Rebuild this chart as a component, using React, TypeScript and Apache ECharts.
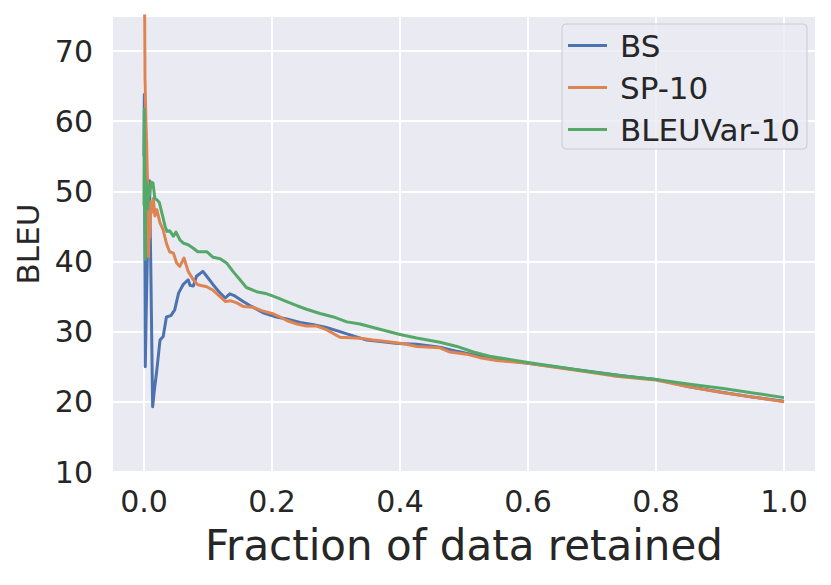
import React, { useEffect, useRef } from "react";
import * as echarts from "echarts";

const seriesNames = ["BS", "SP-10", "BLEUVar-10"];
const seriesColors = ["#4C72B0", "#DD8452", "#55A868"];

const bsPoints: [number, number][] = [
  [0, 55], [0.0005, 63.8], [0.0012, 45], [0.002, 25], [0.0035, 33], [0.006, 44],
  [0.0085, 51.5], [0.0105, 40], [0.0135, 19.3], [0.016, 21.5], [0.02, 24.5],
  [0.025, 28.8], [0.03, 29.3], [0.035, 32.1], [0.042, 32.3], [0.048, 33.1],
  [0.054, 35.5], [0.061, 36.7], [0.069, 37.4], [0.072, 36.6], [0.077, 36.5],
  [0.082, 37.9], [0.092, 38.6], [0.098, 37.9], [0.108, 36.7], [0.119, 35.5],
  [0.127, 34.8], [0.134, 35.4], [0.142, 35.1], [0.155, 34.3], [0.168, 33.6],
  [0.186, 32.7], [0.207, 32.1], [0.223, 31.8], [0.244, 31.3], [0.265, 31],
  [0.285, 30.6], [0.306, 30], [0.327, 29.4], [0.348, 28.8], [0.369, 28.6],
  [0.397, 28.3], [0.426, 28.2], [0.4625, 27.8], [0.489, 27.2], [0.525, 26.5],
  [0.56, 26], [0.6, 25.5], [0.65, 24.9], [0.7, 24.3], [0.75, 23.7], [0.8, 23.2],
  [0.85, 22.2], [0.9, 21.4], [0.95, 20.7], [1.0, 20.1],
];

const spPoints: [number, number][] = [
  [0, 95], [0.0008, 80], [0.0015, 66], [0.002, 64], [0.003, 60], [0.004, 57],
  [0.005, 53], [0.006, 50], [0.0065, 43], [0.007, 40.7], [0.008, 45], [0.009, 43.5],
  [0.0105, 48.5], [0.012, 47], [0.0145, 49], [0.017, 46.5], [0.02, 47.4],
  [0.025, 45.5], [0.03, 44.5], [0.035, 42.6], [0.04, 41.4], [0.046, 41.2],
  [0.051, 39.8], [0.056, 39.3], [0.0625, 40.5], [0.069, 38.6], [0.077, 37.4],
  [0.084, 36.7], [0.098, 36.4], [0.108, 35.9], [0.119, 35], [0.127, 34.3],
  [0.136, 34.4], [0.145, 34.1], [0.155, 33.6], [0.17, 33.5], [0.184, 33],
  [0.2, 32.6], [0.2125, 32.1], [0.223, 31.6], [0.239, 31.1], [0.254, 30.8],
  [0.27, 30.8], [0.285, 30.3], [0.306, 29.2], [0.3375, 29.05], [0.358, 28.8],
  [0.379, 28.6], [0.397, 28.4], [0.41, 28.2], [0.426, 27.9], [0.4625, 27.7],
  [0.478, 27.1], [0.504, 26.8], [0.525, 26.3], [0.551, 25.9], [0.6, 25.5],
  [0.645, 24.9], [0.697, 24.2], [0.733, 23.7], [0.8, 23.1], [0.853, 22.1],
  [0.905, 21.3], [0.957, 20.6], [1.0, 20.0],
];

const varPoints: [number, number][] = [
  [0, 48], [0.0005, 61.7], [0.001, 55], [0.0015, 47], [0.002, 40.3], [0.0025, 49],
  [0.003, 51.5], [0.004, 48], [0.005, 51], [0.006, 47.5], [0.0075, 50.5],
  [0.009, 49.5], [0.011, 51.3], [0.014, 51.2], [0.017, 49], [0.02, 48.8],
  [0.024, 48.4], [0.028, 46.9], [0.033, 45], [0.036, 44.3], [0.04, 44.4],
  [0.046, 43.6], [0.05, 44.2], [0.056, 43.1], [0.062, 42.6], [0.069, 42.4],
  [0.077, 41.9], [0.084, 41.4], [0.098, 41.4], [0.108, 40.6], [0.119, 40.4],
  [0.129, 39.8], [0.139, 38.6], [0.15, 37.4], [0.16, 36.3], [0.176, 35.7],
  [0.192, 35.4], [0.207, 34.9], [0.223, 34.3], [0.239, 33.7], [0.254, 33.2],
  [0.275, 32.6], [0.296, 32.1], [0.317, 31.4], [0.3375, 31.1], [0.358, 30.6],
  [0.379, 30.1], [0.4, 29.6], [0.426, 29.1], [0.4625, 28.5], [0.489, 27.9],
  [0.5145, 27.1], [0.54, 26.5], [0.567, 26.1], [0.6, 25.6], [0.645, 25],
  [0.697, 24.3], [0.749, 23.7], [0.8, 23.2], [0.853, 22.5], [0.905, 21.9],
  [0.957, 21.2], [1.0, 20.6],
];

const allPoints = [bsPoints, spPoints, varPoints];

const FONT = "DejaVu Sans";
const TEXT = "#262626";

export default function App() {
  const ref = useRef<HTMLDivElement>(null);
  useEffect(() => {
    if (!ref.current) return;
    const chart = echarts.init(ref.current, undefined, { renderer: "svg" });
    chart.setOption({
      animation: false,
      backgroundColor: "#ffffff",
      textStyle: { fontFamily: FONT, color: TEXT },
      grid: {
        left: 112,
        right: 15,
        top: 16,
        bottom: 113,
        show: true,
        backgroundColor: "#EAEAF2",
        borderWidth: 0,
      },
      legend: {
        orient: "vertical",
        right: 24,
        top: 24,
        data: seriesNames.map((name) => ({ name, icon: "rect" })),
        itemWidth: 39,
        itemHeight: 3,
        itemGap: 11,
        padding: [6, 7, 4, 6],
        backgroundColor: "rgba(234,234,242,0.8)",
        borderColor: "#cccccc",
        borderWidth: 1,
        borderRadius: 4,
        textStyle: { fontFamily: FONT, fontSize: 31, color: TEXT, padding: [0, 0, 0, 8] },
      },
      xAxis: {
        type: "value",
        min: -0.05,
        max: 1.05,
        splitNumber: 5,
        minInterval: 0.2,
        maxInterval: 0.2,
        axisLine: { show: false },
        axisTick: { show: false },
        splitLine: { show: true, lineStyle: { color: "#ffffff", width: 2 } },
        axisLabel: {
          fontFamily: FONT,
          fontSize: 30,
          color: TEXT,
          margin: 14,
          showMinLabel: false,
          showMaxLabel: false,
          formatter: (v: number) =>
            Math.abs(v * 5 - Math.round(v * 5)) < 1e-6 ? v.toFixed(1) : "",
        },
        name: "Fraction of data retained",
        nameLocation: "middle",
        nameGap: 52,
        nameTextStyle: { fontFamily: FONT, fontSize: 42, color: TEXT },
      },
      yAxis: {
        type: "value",
        min: 10,
        max: 75,
        interval: 10,
        axisLine: { show: false },
        axisTick: { show: false },
        splitLine: { show: true, lineStyle: { color: "#ffffff", width: 2 } },
        axisLabel: {
          fontFamily: FONT,
          fontSize: 30,
          color: TEXT,
          margin: 19,
          formatter: (v: number) => (v % 10 === 0 ? String(v) : ""),
        },
        name: "BLEU",
        nameLocation: "middle",
        nameGap: 64,
        nameTextStyle: { fontFamily: FONT, fontSize: 31, color: TEXT },
      },
      series: seriesNames.map((name, i) => ({
        name,
        type: "line",
        data: allPoints[i],
        symbol: "none",
        showSymbol: false,
        clip: true,
        color: seriesColors[i],
        itemStyle: { color: seriesColors[i] },
        lineStyle: { width: 3, color: seriesColors[i], join: "round" },
        z: 2 + i,
      })),
    });
    return () => chart.dispose();
  }, []);
  return (
    <div
      ref={ref}
      style={{ position: "fixed", left: 0, top: 0, width: 831, height: 585 }}
    />
  );
}
